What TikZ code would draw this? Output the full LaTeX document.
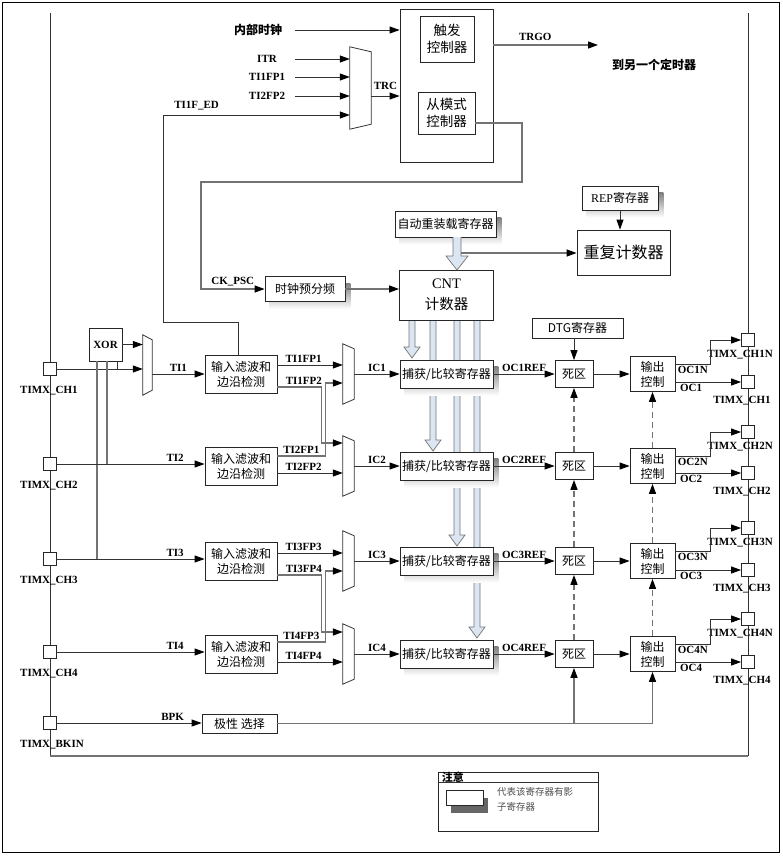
\documentclass[tikz,border=0pt]{standalone}
\usepackage{fontspec}
\setmainfont{Liberation Serif}
\newfontfamily\cjk{Noto Sans CJK SC}
\usetikzlibrary{arrows.meta}

\definecolor{busblue}{RGB}{220,230,242}
\definecolor{shade}{RGB}{128,128,128}
\pgfdeclarelayer{back}
\pgfsetlayers{back,main}

\tikzset{
  blk/.style={draw=black!85, line width=0.8pt, fill=white, inner sep=0pt, align=center,
    font=\cjk\fontsize{12}{15}\selectfont},
  lbl/.style={inner sep=2pt, font=\bfseries\fontsize{11}{12}\selectfont},
  cjklbl/.style={inner sep=0pt, font=\cjk\bfseries\fontsize{12}{14}\selectfont},
  pad/.style={draw=black!85, fill=white, line width=0.8pt, minimum size=13pt, inner sep=0pt},
  mux/.style={inner sep=0pt, minimum width=11pt, minimum height=60pt},
  wire/.style={draw=black!80, line width=0.8pt},
  gwire/.style={draw=black!55, line width=1.3pt},
  sig/.style={wire, -{Triangle[length=10pt,width=7pt,color=black]}},
  gsig/.style={gwire, -{Triangle[length=10pt,width=7pt,color=black]}},
  dsig/.style={gsig, dash pattern=on 6pt off 4pt},
  bus/.style={draw=black!55, fill=busblue, line width=0.7pt},
}

% hollow register bus: x, top, tip, half shaft, half head
\newcommand\busarrow[5]{%
  \draw[bus] ({#1-#4},#2) -- ({#1-#4},{#3-#5-3}) -- ({#1-#5},{#3-#5-3}) -- (#1,#3)
    -- ({#1+#5},{#3-#5-3}) -- ({#1+#4},{#3-#5-3}) -- ({#1+#4},#2);}

\begin{document}
\begin{tikzpicture}[x=1pt, y=-1pt]
\useasboundingbox (0,0) rectangle (783,863);

% frame
\draw[black, line width=1pt] (2,2) rectangle (779,852);
\draw[wire] (50,13) -- (50,756);
\draw[wire] (748,13) -- (748,756);
\draw[gwire] (50,756) -- (748,756);

% top: trigger / slave controller
\node[blk, minimum width=93pt, minimum height=153pt] (ctrl) at (446.5,85.5) {};
\node[blk, font=\cjk\fontsize{13.5}{17}\selectfont, minimum width=54pt, minimum height=46pt] (trg) at (447,39) {触发\\控制器};
\node[blk, font=\cjk\fontsize{13.5}{17}\selectfont, minimum width=57pt, minimum height=42pt] (slv) at (446.5,113) {从模式\\控制器};
\node[mux, minimum width=21pt, minimum height=82pt] (mxt) at (360.5,88) {};

\node[cjklbl, minimum width=74pt] (intclk) at (258,30) {内部时钟};
\node[lbl, minimum width=56pt] (itr) at (267,59) {ITR};
\node[lbl, minimum width=56pt] (tf1) at (267,77) {TI1FP1};
\node[lbl, minimum width=56pt] (tf2) at (267,96) {TI2FP2};
\node[cjklbl] (oth) at (654,65) {到另一个定时器};

% counter part
\node[blk, minimum width=80pt, minimum height=25pt] (psc) at (305,289) {时钟预分频};
\node[blk, minimum width=94pt, minimum height=50pt, font=\cjk\fontsize{14.5}{21}\selectfont] (cnt) at (446.5,295) {{\rmfamily CNT}\\计数器};
\node[blk, minimum width=101pt, minimum height=26pt] (arr) at (445.5,224) {自动重装载寄存器};
\node[blk, minimum width=76pt, minimum height=24pt] (rep) at (620,198) {{\rmfamily REP}寄存器};
\node[blk, minimum width=93pt, minimum height=45pt, font=\cjk\fontsize{16}{18}\selectfont] (rcnt) at (623.5,252.5) {重复计数器};
\node[blk, minimum width=91pt, minimum height=20pt] (dtg) at (577.5,328) {DTG寄存器};
\busarrow{457}{237}{270}{4}{11}

% channels
\foreach \i/\y in {1/374,2/466,3/561,4/654} {
  \node[blk, minimum width=93pt, minimum height=28pt] (cap\i) at (446.5,\y) {捕获/比较寄存器};
  \node[blk, minimum width=38pt, minimum height=27pt] (dz\i) at (574,\y) {死区};
  \node[blk, minimum width=45pt, minimum height=35pt] (oc\i) at (652.5,\y) {输出\\控制};
  \node[mux] (mx\i) at (348.5,\y) {};
  \node[blk, minimum width=72pt, minimum height=38pt] (flt\i) at (241,\y) {输入滤波和\\边沿检测};
}
\node[blk, font=\bfseries\fontsize{11}{12}\selectfont, minimum width=33pt, minimum height=33pt] (xor) at (105.5,344.5) {XOR};
\node[mux, minimum width=9pt] (mx0) at (147.5,365) {};
\node[blk, minimum width=75pt, minimum height=19pt] (pol) at (239.5,723.5) {极性 选择};

\foreach \m in {mxt,mx0,mx1,mx2,mx3,mx4}
  \draw[wire, fill=white] (\m.north west) -- ([yshift=-5pt]\m.north east)
    -- ([yshift=5pt]\m.south east) -- (\m.south west) -- cycle;

% buses from CNT and register shadows
\begin{pgfonlayer}{back}
\busarrow{412}{320}{358}{3}{8}
\busarrow{433}{320}{451}{3}{8}
\busarrow{457}{320}{546}{3}{8}
\busarrow{477}{320}{638}{3}{8}
\foreach \n in {psc,arr,rep,cap1,cap2,cap3,cap4}
  \fill[shade] ([shift={(5pt,-7pt)}]\n.north west) rectangle ([shift={(5pt,-7pt)}]\n.south east);
\end{pgfonlayer}

% pins
\foreach \p/\y/\t in {p1/369/CH1, p2/464/CH2, p3/559/CH3, p4/652/CH4, bk/723/BKIN} {
  \node[pad] (\p) at (50,\y) {};
  \node[lbl, anchor=north west] at ([xshift=-32pt,yshift=-8pt]\p.south) {TIMX\_\t};
}
\foreach \i/\yn/\yc in {1/340/382, 2/432/473, 3/528/570, 4/619/662} {
  \node[pad] (n\i) at (748,\yn) {};
  \node[pad] (c\i) at (748,\yc) {};
  \node[lbl, anchor=north] at ([xshift=-8pt,yshift=-1pt]n\i.south) {TIMX\_CH\i N};
  \node[lbl, anchor=north] at ([xshift=-6pt,yshift=-5pt]c\i.south) {TIMX\_CH\i};
}

% top connections
\draw[sig] (intclk.east) -- (ctrl.west |- intclk.east);
\foreach \s in {itr,tf1,tf2}
  \draw[sig] (\s.east) -- (mxt.west |- \s.east);
\draw[sig] ([yshift=-8pt]mxt.east) -- ([yshift=-8pt]mxt.east -| ctrl.west) node[lbl, midway, above=4pt] {TRC};
\coordinate (edknee) at (163,322);
\coordinate (edtop) at (163,115);
\draw[sig] ([xshift=-3pt]flt1.north) |- (edknee) -- (edtop) -- (edtop -| mxt.west) node[lbl, above=3pt, pos=0.18] {TI1F\_ED};
\coordinate (trgoend) at (598,45);
\draw[gsig] (ctrl.east |- trgoend) -- (trgoend) node[lbl, above=2pt, pos=0.4] {TRGO};
\coordinate (fbR) at (522,182);
\coordinate (fbL) at (201,182);
\draw[gsig] ([yshift=-10pt]slv.east) -| (fbR) -- (fbL) |- (psc.west) node[lbl, above, pos=0.75] {CK\_PSC};
\draw[gsig] (psc.east) -- (cnt.west |- psc.east);
\draw[sig] (rep.south) -- (rep.south |- rcnt.north);
\coordinate (arrtap) at (461,253);
\draw[gsig] (arrtap) -- (arrtap -| rcnt.west);
\draw[sig] (dz1.north |- dtg.south) -- (dz1.north);

% inputs
\draw[sig] (p1.east) -- (mx0.west |- p1.east);
\draw[sig] (xor.east) -- (mx0.west |- xor.east);
\draw[sig] (mx0.east |- flt1.west) -- (flt1.west) node[lbl, midway, above] {TI1};
\draw[wire] ([xshift=11.5pt]xor.south) -- ([xshift=11.5pt]xor.south |- p1);
\draw[gwire] ([xshift=1.5pt]xor.south) -- ([xshift=1.5pt]xor.south |- p2);
\draw[gwire] ([xshift=-8.5pt]xor.south) -- ([xshift=-8.5pt]xor.south |- p3);
\draw[sig] (p2.east) -- (flt2.west |- p2.east) node[lbl, above, pos=0.8] {TI2};
\draw[sig] (p3.east) -- (flt3.west |- p3.east) node[lbl, above, pos=0.8] {TI3};
\draw[sig] (p4.east) -- (flt4.west |- p4.east) node[lbl, above, pos=0.8] {TI4};
\draw[sig] (bk.east) -- (pol.west |- bk.east) node[lbl, above, pos=0.8] {BPK};

% filter outputs to selectors
\draw[sig] ([yshift=9pt]flt1.east) -- ([yshift=9pt]flt1.east -| mx1.west) node[lbl, above, pos=0.4] {TI1FP1};
\draw[gsig] ([yshift=-13pt]flt1.east) -- ++(44,0) node[lbl, above, pos=0.6] {TI1FP2} |- ([yshift=23pt]mx2.west);
\draw[gsig] ([yshift=10pt]flt2.east) -- ++(48,0) node[lbl, above, pos=0.5] {TI2FP1} |- ([yshift=-9pt]mx1.west);
\draw[sig] ([yshift=-7pt]flt2.east) -- ([yshift=-7pt]flt2.east -| mx2.west) node[lbl, above, pos=0.4] {TI2FP2};
\draw[sig] ([yshift=8pt]flt3.east) -- ([yshift=8pt]flt3.east -| mx3.west) node[lbl, above, pos=0.4] {TI3FP3};
\draw[gsig] ([yshift=-14pt]flt3.east) -- ++(44,0) node[lbl, above, pos=0.6] {TI3FP4} |- ([yshift=22pt]mx4.west);
\draw[gsig] ([yshift=12pt]flt4.east) -- ++(48,0) node[lbl, above, pos=0.5] {TI4FP3} |- ([yshift=-10pt]mx3.west);
\draw[sig] ([yshift=-8pt]flt4.east) -- ([yshift=-8pt]flt4.east -| mx4.west) node[lbl, above, pos=0.4] {TI4FP4};

% channel chains
\foreach \i in {1,...,4} {
  \draw[sig] (mx\i.east) -- (cap\i.west) node[lbl, midway, above] {IC\i};
  \draw[sig] (cap\i.east) -- (dz\i.west) node[lbl, midway, above] {OC\i REF};
  \draw[sig] (dz\i.east) -- (oc\i.west);
  \draw[sig] ([yshift=10pt]oc\i.east) -- ++(35,0) node[lbl, midway, below] {OC\i N} |- (n\i.west);
  \draw[sig] (oc\i.east |- c\i.west) -- (c\i.west) node[lbl, below, pos=0.24] {OC\i};
}
\foreach \i/\j in {1/2,2/3,3/4} {
  \draw[dsig] (dz\j.north) -- (dz\i.south);
  \draw[dsig] (oc\j.north) -- (oc\i.south);
}
\draw[gsig] (pol.east) -| (oc4.south);
\draw[gsig] (dz4.south |- pol.east) -- (dz4.south);

% legend
\node[draw=black!85, line width=0.8pt, minimum width=160pt, minimum height=59pt, inner sep=0pt] (leg) at (518,801.5) {};
\draw[wire] ([yshift=-11pt]leg.north west) -- ([yshift=-11pt]leg.north east);
\node[inner sep=0pt, font=\cjk\bfseries\fontsize{11}{12}\selectfont, anchor=west] (legt) at ([xshift=4pt,yshift=-5.5pt]leg.north west) {注意};
\node[blk, minimum width=37pt, minimum height=15pt] (legico) at (464.5,797.5) {};
\begin{pgfonlayer}{back}
\fill[black!60] ([shift={(5pt,-8pt)}]legico.north west) rectangle ([shift={(5pt,-8pt)}]legico.south east);
\end{pgfonlayer}
\node[anchor=north west, align=left, text=black!70, inner sep=0pt, font=\cjk\fontsize{9.5}{15}\selectfont] (legtxt) at (497,787) {代表该寄存器有影\\子寄存器};
\end{tikzpicture}
\end{document}
